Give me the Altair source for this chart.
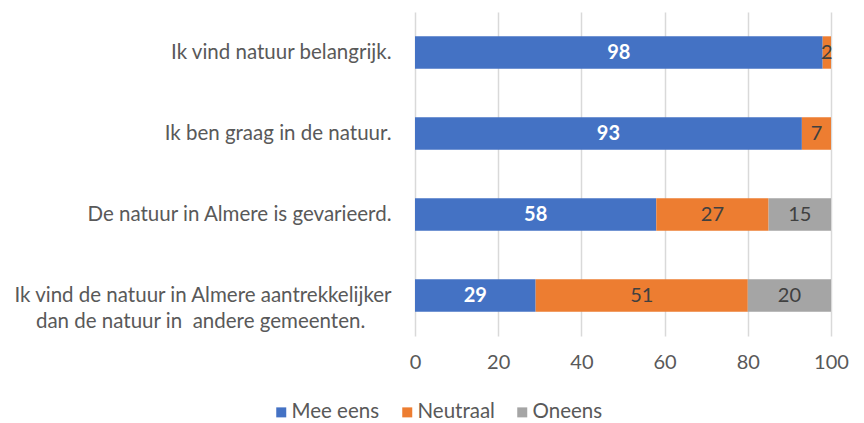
import altair as alt
import pandas as pd

statements = [
    "Ik vind natuur belangrijk.",
    "Ik ben graag in de natuur.",
    "De natuur in Almere is gevarieerd.",
    "Ik vind de natuur in Almere aantrekkelijker|dan de natuur in\u00a0 andere gemeenten.",
]
series = ["Mee eens", "Neutraal", "Oneens"]
mee_eens = [98, 93, 58, 29]
neutraal = [2, 7, 27, 51]
oneens = [0, 0, 15, 20]
colors = ["#4472C4", "#ED7D31", "#A5A5A5"]
x_ticks = [0, 20, 40, 60, 80, 100]

rows = []
for i, s in enumerate(statements):
    for j, (name, vals) in enumerate(zip(series, [mee_eens, neutraal, oneens])):
        if vals[i] > 0:
            rows.append({"statement": s, "series": name, "order": j, "value": vals[i]})
df = pd.DataFrame(rows)

FONT = "Lato"
FS = 20
YFS = 20.5

# multi-line labels: centre the second line under the first (as in the original);
# a zero-width space keeps the trailing no-break spaces from being trimmed
PAD = "\u00a0" * 5 + "\u200b"
label_expr = (
    "length(split(datum.label, '|')) > 1 ? "
    "[split(datum.label, '|')[0], split(datum.label, '|')[1] + '" + PAD + "'] : datum.label"
)

base = alt.Chart(df).transform_stack(
    stack="value", groupby=["statement"], as_=["start", "end"],
    sort=[alt.SortField("order", order="ascending")],
).transform_calculate(mid="(datum.start + datum.end) / 2")

y_enc = alt.Y(
    "statement:N", sort=statements, title=None,
    scale=alt.Scale(paddingInner=0.6, paddingOuter=0.3),
    axis=alt.Axis(
        labelExpr=label_expr, labelFontSize=YFS, labelColor="#595959",
        labelFont=FONT, labelPadding=24, ticks=False, domain=False, grid=False,
        labelLineHeight=26, labelLimit=500,
    ),
)

bars = base.mark_bar().encode(
    x=alt.X(
        "start:Q", title=None,
        scale=alt.Scale(domain=[0, 100], nice=False),
        axis=alt.Axis(
            values=x_ticks, labelFontSize=FS, labelColor="#595959", labelFont=FONT,
            labelPadding=16, ticks=False, domain=False, grid=True, labelFlush=False,
            gridColor="#D9D9D9", gridWidth=1.5,
        ),
    ),
    x2="end:Q",
    y=y_enc,
    color=alt.Color(
        "series:N", sort=series,
        scale=alt.Scale(domain=series, range=colors),
        legend=alt.Legend(
            title=None, orient="none", direction="horizontal",
            legendX=-144, legendY=390, symbolType="square", symbolSize=100,
            symbolStrokeWidth=0, labelFontSize=YFS, labelColor="#595959",
            labelFont=FONT, columnPadding=17, labelOffset=0,
        ),
    ),
)

text_main = base.transform_filter("datum.series == 'Mee eens'").mark_text(
    color="white", fontWeight="bold", fontSize=FS, font=FONT
).encode(x="mid:Q", y=alt.Y("statement:N", sort=statements), text="value:Q")

text_other = base.transform_filter("datum.series != 'Mee eens'").mark_text(
    color="#404040", fontSize=FS, font=FONT
).encode(x="mid:Q", y=alt.Y("statement:N", sort=statements), text="value:Q")

chart = alt.layer(bars, text_main, text_other).properties(
    width=416, height=324,
    autosize=alt.AutoSizeParams(type="none"),
    padding={"left": 407, "top": 4, "right": 25, "bottom": 95},
).configure_view(stroke=None)

chart.save("out.html", embed_options={"renderer": "svg", "actions": False})
